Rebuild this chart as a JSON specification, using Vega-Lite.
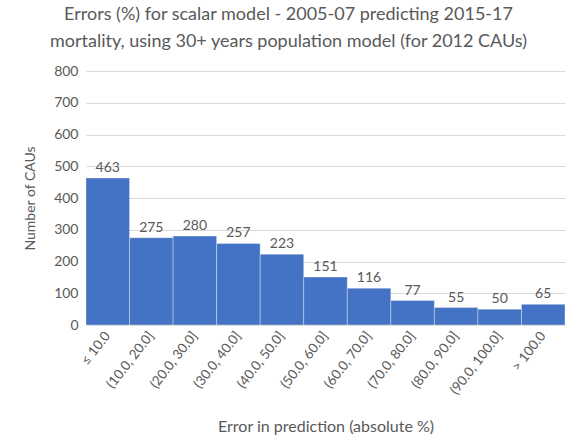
{
  "$schema": "https://vega.github.io/schema/vega-lite/v6.json",
  "width": 479,
  "height": 254,
  "autosize": {"type": "none"},
  "padding": {"left": 86, "top": 71, "right": 4, "bottom": 117},
  "background": "white",
  "title": {
    "text": ["Errors (%) for scalar model - 2005-07 predicting 2015-17", "mortality, using 30+ years population model (for 2012 CAUs)"],
    "font": "Lato",
    "fontSize": 18,
    "fontWeight": "normal",
    "color": "#595959",
    "anchor": "middle",
    "frame": "group",
    "offset": 13,
    "lineHeight": 27,
    "dx": -37
  },
  "data": {
    "values": [
      {"bin": "≤ 10.0", "count": 463},
      {"bin": "(10.0, 20.0]", "count": 275},
      {"bin": "(20.0, 30.0]", "count": 280},
      {"bin": "(30.0, 40.0]", "count": 257},
      {"bin": "(40.0, 50.0]", "count": 223},
      {"bin": "(50.0, 60.0]", "count": 151},
      {"bin": "(60.0, 70.0]", "count": 116},
      {"bin": "(70.0, 80.0]", "count": 77},
      {"bin": "(80.0, 90.0]", "count": 55},
      {"bin": "(90.0, 100.0]", "count": 50},
      {"bin": "> 100.0", "count": 65}
    ]
  },
  "encoding": {
    "x": {
      "field": "bin",
      "type": "nominal",
      "sort": null,
      "scale": {"paddingInner": 0, "paddingOuter": 0},
      "axis": {
        "title": "Error in prediction (absolute %)",
        "titleFont": "Lato",
        "titleFontSize": 16,
        "titleFontWeight": "normal",
        "titleColor": "#595959",
        "titlePadding": 22,
        "labelAngle": -52,
        "labelFont": "Lato",
        "labelFontSize": 13.5,
        "labelColor": "#595959",
        "labelPadding": 8,
        "ticks": false,
        "domain": false
      }
    },
    "y": {
      "field": "count",
      "type": "quantitative",
      "scale": {"domain": [0, 800]},
      "axis": {
        "title": "Number of CAUs",
        "titleFont": "Lato",
        "titleFontSize": 14,
        "titleFontWeight": "normal",
        "titleColor": "#595959",
        "titlePadding": 16,
        "values": [0, 100, 200, 300, 400, 500, 600, 700, 800],
        "labelFont": "Lato",
        "labelFontSize": 14,
        "labelColor": "#595959",
        "labelPadding": 8,
        "ticks": false,
        "domain": false,
        "gridColor": "#d9d9d9",
        "gridWidth": 1
      }
    }
  },
  "layer": [
    {
      "mark": {"type": "bar", "color": "#4472C4", "stroke": "#ffffff", "strokeOpacity": 0.35, "strokeWidth": 1}
    },
    {
      "mark": {"type": "text", "baseline": "bottom", "dy": -3, "font": "Lato", "fontSize": 14, "color": "#595959"},
      "encoding": {"text": {"field": "count", "type": "quantitative"}}
    }
  ],
  "config": {"view": {"stroke": null}}
}
